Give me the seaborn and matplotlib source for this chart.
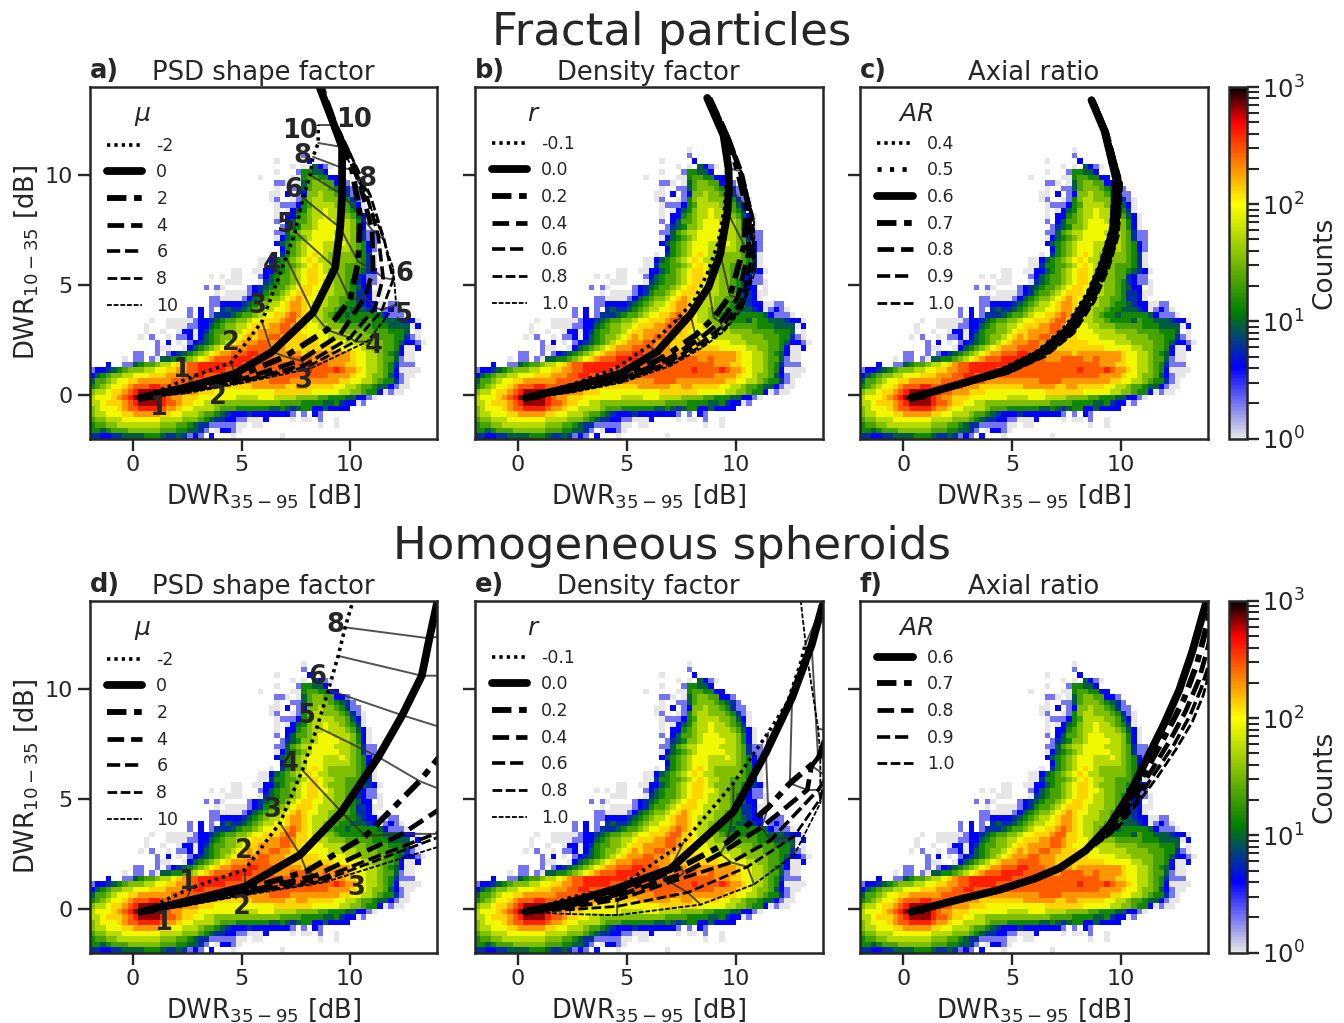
import numpy as np
import pandas as pd
import seaborn as sns
import matplotlib.pyplot as plt
from matplotlib.colors import LinearSegmentedColormap, LogNorm
from matplotlib.cm import ScalarMappable
from matplotlib.lines import Line2D

# histogram cells: "first_column cells", one entry per 0.25 dB row from y=-2 upward
COUNT_CODES = {"a": 1, "b": 2, "c": 4, "d": 6, "e": 9, "f": 14, "g": 22, "h": 35,
               "i": 55, "j": 90, "k": 130, "l": 190, "m": 280, "n": 400, "o": 650, "p": 900}
HIST_ROWS = [
    "0 ddccddeeeefffeddedbcb.c...a........a",
    "0 ffefggghhhhhhgggffeedb.accba",
    "0 fgghhiiiiiiiihhhggfeddbbbbbaa.aa..........a..a",
    "0 ghhiiijjjjjjjiiiihhhgfeddccbbaaac....a.aa.b..a",
    "0 hiijjjkklllllkkjjiiihggfedcccdcccccccb.b.cb",
    "0 hijjjklmmnnnnmllkjjiiiihgggffffffeefedeffccecccc",
    "0 iijkkklmnoooonmmlkkjjiihhhhhhhhhhhhggggffffeefdccab",
    "0 ijjjklmnoopponmllkkkjjjjjjjiiiijjjiiiihhhhggfffeeccba",
    "0 hiijkklmnoooonnmmlllkkkjjjjjjjjjjjkkkkkkkjjjjjiihhgffcabaa",
    "0 fghijjklmmmnnmmmmmmlllkkkkkkkkllllllkkllkkkkkjjiihggfeecbaa",
    "0 egghijjkkllllllmmmmmmmmllllllllllmmmmlllllllllkkjjiihgffdba",
    "0 cefghhiijjjkkklllmmnnmmmmmmmmmmmmmmmmmmmmmmmllllkjjihhgecbaa",
    "0 bccdefghhhiijjkkllmmnnnnnmmmmmmmmmmmmmmmnmmmmnmllkjiihgfcaaaa",
    "0 ...c..bbefgghiijklmmnnnnnnnnmmmmmmmmmmmmmmmmlllkkjjiihgfdbbb",
    "6 a.bb.baeeffghijklmmmnnnnmmmmlllmmmmllmllllkjjiihggebaa",
    "8 bb..b.bcdefghijkllmmmnnmmmlllllkllllllllkjjiihgfecaa",
    "12 baa..acefghijklllmmmmlllkkkkkkkkkjjjjjiihhggfcaac",
    "12 b.c.a.bcdefghijklllmmlllkkkkkkjjjjjiiihhhhggfeccba",
    "9 a.b..a.bbcacefghhijklkllmmllkkkjjjjiiiiihhhhgggffdba",
    "10 a..a..accacdfgghhijkkllllmmlkjjjjiiiihhhhggggfffe.a",
    "10 a...aaaabbccefghhiijkkkllmmlkkjjiihhhgggggfffeeeeac",
    "11 a..aaaaabccdefgghhijjkkklmmkkjiihhgffffegffeeedcca",
    "18 b.c.bdddefgghijjkklmlkjiihgffefffffecbbba",
    "18 b.c.b.deddefghiijjkllkjiihhgffeeedcabcba",
    "22 bbccccdefghiijkllkjiiihhgffedccaabb",
    "22 bbaaaabcefghhijklkjjiihhggfddca",
    "23 a.aaaabcdfgghijkkkjiiihhgfddcaa",
    "21 b.ba....bcdefgghijkkjjiihhgfecc.a",
    "25 aaa...adefgghijkkjiihhgfdcbba",
    "22 a.a.aa...bcefgghijkkjjihhggdcbb",
    "26 aa..aaccefghijkkjihhhggfedca",
    "31 aadffgghijkjiihhgggfda",
    "31 aacefghijkjiihhhhhgfda",
    "33 a.dfghijkjihhhhhgfda",
    "35 cfghijjjiiiiihgfcb",
    "34 cefghijjjiiijihgfcb",
    "34 acefghijjjjjiihgdbb",
    "34 bbeghiijjjjiiihgdbb",
    "35 bdefhhijjjjiihfca",
    "34 b.cegghijjjiiihfca",
    "34 a.ccfghiijiiihgeca",
    "34 a.acefhiijiihgfda",
    "34 abbbcfgiiiihhgeca",
    "33 ab..abfhiihhhgfdba",
    "33 aa.c.bchhihhgfdbb",
    "34 a..bbeghhhgfedb",
    "34 bba.aeghhggccb",
    "31 a.....aafggffcc",
    "34 a...bffeec",
    "37 a.a.ecba",
    "34 a.....c",
    "39 b",
    "39 a",
]

# all the curves begin at the same spot
start_x = 0.35
start_y = -0.15

# a) Fractal, PSD shape factor
a_labels = ["-2", "0", "2", "4", "6", "8", "10"]
a_x = [[2.86, 4.52, 5.94, 7.05, 7.47, 7.83, 8.16, 8.29, 8.53, 8.53],
       [2.40, 4.70, 6.41, 8.29, 9.31, 9.54, 9.63, 9.63, 9.63, 9.26, 8.4],
       [2.40, 4.70, 7.00, 8.94, 10.0, 10.37, 10.46, 10.09, 9.68, 9.31, 8.71],
       [2.40, 4.84, 7.70, 9.54, 10.69, 11.06, 11.01, 10.46, 9.86, 9.40],
       [2.40, 4.93, 7.93, 10.0, 11.15, 11.52, 11.29, 10.69, 10.0, 9.45],
       [2.40, 4.93, 8.06, 10.23, 11.47, 11.98, 11.57, 10.92, 10.09, 9.54],
       [2.40, 4.93, 8.16, 10.78, 12.12, 11.98, 11.29, 10.23, 9.54, 9.17]]
a_y = [[0.86, 1.45, 3.32, 6.23, 7.41, 8.95, 10.0, 10.82, 11.45, 12.27],
       [0.32, 0.95, 1.95, 3.73, 5.77, 7.59, 9.09, 10.32, 11.27, 12.27, 14.5],
       [0.23, 0.77, 1.73, 2.95, 4.32, 6.05, 8.18, 10.23, 11.14, 12.27, 13.95],
       [0.18, 0.64, 1.55, 2.73, 4.45, 5.68, 7.50, 9.55, 11.14, 12.14],
       [0.14, 0.59, 1.36, 2.59, 3.95, 5.32, 7.27, 9.32, 10.91, 12.05],
       [0.10, 0.55, 1.27, 2.41, 3.86, 5.23, 7.05, 9.09, 10.77, 11.95],
       [0.05, 0.50, 1.18, 2.41, 4.09, 5.77, 7.73, 10.14, 11.27, 12.14]]

# b) Fractal, density factor
b_labels = ["-0.1", "0.0", "0.2", "0.4", "0.6", "0.8", "1.0"]
b_x = [[2.6, 4.5, 6.0, 7.3, 8.1, 8.7, 9.2, 9.5, 9.6, 9.5, 8.7],
       [2.5, 4.7, 6.4, 7.93, 8.76, 9.3, 9.63, 9.7, 9.68, 9.45, 8.7],
       [2.5, 4.7, 6.7, 8.16, 9.0, 9.75, 10.4, 10.5, 10.1, 9.6, 8.8],
       [2.5, 4.75, 6.8, 8.3, 9.3, 10.1, 10.6, 10.6, 10.2, 9.6, 8.8],
       [2.5, 4.8, 6.9, 8.4, 9.4, 10.3, 10.75, 10.7, 10.3, 9.65, 8.85],
       [2.5, 4.8, 7.0, 8.5, 9.5, 10.4, 10.85, 10.8, 10.3, 9.7, 8.9],
       [2.5, 4.8, 7.0, 8.5, 9.5, 10.3, 10.9, 10.85, 10.4, 9.7, 8.9]]
b_y = [[0.5, 1.2, 2.2, 3.4, 4.3, 5.5, 6.9, 8.5, 10.0, 11.8, 13.5],
       [0.35, 0.95, 1.95, 3.64, 4.9, 6.4, 8.3, 9.5, 10.3, 11.8, 13.5],
       [0.25, 0.75, 1.7, 2.7, 3.5, 4.5, 6.8, 8.5, 10.2, 11.8, 13.5],
       [0.2, 0.7, 1.55, 2.5, 3.3, 4.4, 6.5, 8.5, 10.2, 11.8, 13.5],
       [0.18, 0.65, 1.45, 2.35, 3.1, 4.3, 6.3, 8.3, 10.1, 11.8, 13.4],
       [0.15, 0.6, 1.4, 2.25, 3.0, 4.2, 6.0, 8.1, 10.0, 11.7, 13.4],
       [0.1, 0.55, 1.3, 2.15, 2.9, 3.9, 5.6, 7.9, 9.8, 11.7, 13.4]]

# c) Fractal, axial ratio
c_labels = ["0.4", "0.5", "0.6", "0.7", "0.8", "0.9", "1.0"]
c_x = [[2.5, 4.6, 6.2, 7.5, 8.45, 9.1, 9.55, 9.7, 9.2, 8.6],
       [2.5, 4.65, 6.25, 7.55, 8.5, 9.15, 9.6, 9.75, 9.25, 8.65],
       [2.5, 4.7, 6.3, 7.6, 8.57, 9.2, 9.65, 9.8, 9.26, 8.66],
       [2.5, 4.75, 6.4, 7.7, 8.65, 9.3, 9.75, 9.9, 9.3, 8.7],
       [2.5, 4.8, 6.45, 7.75, 8.7, 9.35, 9.8, 9.95, 9.35, 8.75],
       [2.5, 4.8, 6.5, 7.8, 8.75, 9.4, 9.85, 10.0, 9.4, 8.8],
       [2.5, 4.85, 6.55, 7.85, 8.8, 9.45, 9.9, 10.05, 9.4, 8.85]]
c_y = [[0.5, 1.2, 2.0, 3.15, 4.6, 6.1, 7.6, 9.8, 12.0, 13.4],
       [0.48, 1.15, 1.95, 3.05, 4.55, 6.05, 7.55, 9.8, 12.0, 13.4],
       [0.45, 1.1, 1.9, 3.0, 4.5, 6.0, 7.5, 9.8, 12.0, 13.4],
       [0.42, 1.05, 1.85, 2.95, 4.4, 5.9, 7.4, 9.75, 12.0, 13.4],
       [0.4, 1.02, 1.8, 2.9, 4.35, 5.85, 7.35, 9.7, 11.95, 13.35],
       [0.38, 1.0, 1.78, 2.85, 4.3, 5.8, 7.3, 9.65, 11.9, 13.3],
       [0.35, 0.98, 1.75, 2.8, 4.25, 5.75, 7.25, 9.6, 11.85, 13.25]]

# d) Spheroids, PSD shape factor
d_labels = ["-2", "0", "2", "4", "6", "8", "10"]
d_x = [[2.7, 5.16, 6.77, 7.8, 8.48, 9.0, 9.45, 9.77, 10.1, 10.5],
       [2.4, 5.16, 7.7, 9.6, 11.3, 12.4, 13.3, 13.65, 14.0, 14.2],
       [2.4, 5.1, 8.0, 10.7, 13.2, 15.0, 15.0, 15.0],
       [2.4, 5.1, 8.4, 12.4, 15.0],
       [2.4, 5.1, 8.6, 13.9, 15.5],
       [2.4, 5.1, 8.7, 15.0],
       [2.4, 5.1, 8.85, 15.0]]
d_y = [[0.95, 1.77, 3.9, 6.3, 8.27, 9.95, 11.5, 12.8, 13.9, 15.0],
       [0.32, 1.0, 2.45, 4.4, 6.9, 8.8, 10.6, 12.3, 13.9, 15.0],
       [0.25, 0.85, 1.7, 3.3, 5.8, 8.0, 10.6, 12.6],
       [0.2, 0.75, 1.5, 3.4, 5.1],
       [0.17, 0.7, 1.35, 3.4, 4.0],
       [0.15, 0.65, 1.25, 3.6],
       [0.12, 0.6, 1.2, 3.1]]

# e) Spheroids, density factor
e_labels = ["-0.1", "0.0", "0.2", "0.4", "0.6", "0.8", "1.0"]
e_x = [[2.4, 4.7, 7.6, 9.9, 11.5, 12.4, 13.0, 13.2],
       [2.4, 4.5, 7.0, 9.9, 11.4, 12.6, 13.5, 14.0],
       [2.4, 4.5, 7.5, 9.6, 11.5, 12.5, 13.8, 14.3],
       [2.4, 4.5, 7.6, 9.3, 11.2, 13.3, 13.5, 14.3],
       [2.4, 4.6, 7.0, 9.8, 11.6, 13.8, 14.2, 14.5],
       [2.4, 4.56, 7.8, 10.55, 12.7, 13.9, 14.3, 14.5],
       [2.4, 4.56, 8.4, 10.85, 12.7, 13.9, 13.9, 13.8, 13.3, 13.0]]
e_y = [[0.5, 1.0, 3.0, 5.7, 8.0, 9.4, 11.2, 12.0],
       [0.3, 0.9, 1.8, 4.4, 7.1, 9.6, 12.0, 13.8],
       [0.2, 0.65, 1.9, 3.0, 4.6, 5.7, 6.8, 8.2],
       [0.15, 0.55, 1.6, 2.5, 3.7, 5.4, 6.5, 7.5],
       [0.05, 0.4, 1.2, 2.1, 3.1, 5.4, 6.0, 7.0],
       [-0.05, 0.1, 0.73, 1.9, 3.3, 5.0, 6.5, 8.0],
       [-0.25, -0.3, 0.18, 1.1, 2.45, 4.8, 7.0, 8.2, 11.4, 14.0]]

# f) Spheroids, axial ratio
f_labels = ["0.6", "0.7", "0.8", "0.9", "1.0"]
f_x = [[2.5, 4.4, 6.0, 7.2, 8.4, 9.5, 10.4, 11.3, 12.0, 12.7, 13.3, 13.9, 14.2],
       [2.5, 4.4, 6.0, 7.2, 8.4, 9.6, 10.5, 11.4, 12.15, 12.9, 13.5, 14.0, 14.2],
       [2.5, 4.4, 6.0, 7.2, 8.4, 9.7, 10.6, 11.5, 12.3, 13.0, 13.6, 14.05, 14.2],
       [2.5, 4.4, 6.0, 7.2, 8.4, 9.75, 10.7, 11.6, 12.45, 13.2, 13.7, 14.1, 14.2],
       [2.5, 4.4, 6.0, 7.2, 8.4, 9.8, 10.75, 11.7, 12.55, 13.3, 13.8, 14.1, 14.2]]
f_y = [[0.4, 0.85, 1.35, 1.85, 2.65, 3.8, 5.2, 7.0, 8.4, 9.95, 11.7, 13.8, 15.0],
       [0.38, 0.83, 1.32, 1.8, 2.62, 3.75, 5.1, 6.7, 8.05, 9.5, 11.1, 13.0, 14.0],
       [0.36, 0.8, 1.3, 1.8, 2.6, 3.7, 5.0, 6.4, 7.7, 9.0, 10.4, 12.0, 13.0],
       [0.35, 0.78, 1.28, 1.78, 2.58, 3.65, 4.85, 6.2, 7.45, 8.8, 10.0, 11.2, 12.0],
       [0.34, 0.76, 1.26, 1.75, 2.55, 3.6, 4.75, 6.0, 7.25, 8.5, 9.7, 10.8, 11.5]]

# size labels next to the curve ends in a) and d)
a_text = ["1", "2", "3", "4", "5", "6", "8", "10", "1", "2", "3", "4", "5", "6", "8", "10"]
a_text_x = [2.22, 4.53, 5.74, 6.4, 7.05, 7.4, 7.8, 7.7, 1.15, 3.9, 7.85, 11.1, 12.5, 12.5, 10.8, 10.2]
a_text_y = [1.13, 2.36, 4.05, 5.9, 7.7, 9.3, 10.85, 12.0, -0.6, -0.09, 0.64, 2.2, 3.64, 5.5, 9.8, 12.5]
d_text = ["1", "2", "3", "4", "5", "6", "8", "1", "2", "3"]
d_text_x = [2.5, 5.1, 6.4, 7.2, 8.0, 8.5, 9.3, 1.4, 5.0, 10.3]
d_text_y = [1.23, 2.64, 4.5, 6.6, 8.75, 10.55, 12.9, -0.64, 0.05, 0.95]

# (linewidth, dash pattern in points) per row of the legends
solid = (5.6, None)
style_dot = (2.6, (2.4, 2.9))
style_dot2 = (3.4, (3.0, 6.0))
style_dashdot = (4.2, (14, 5.5, 5.5, 5.5))
style_dash = (3.4, (12, 5))
style_dash2 = (2.6, (9.5, 3.5))
style_dash3 = (2.0, (7, 2.5))
style_dash4 = (1.3, (3.5, 1.3))

styles_mu = [style_dot, solid, style_dashdot, style_dash, style_dash2, style_dash3, style_dash4]
styles_ar = [style_dot, style_dot2, solid, style_dashdot, style_dash, style_dash2, style_dash3]
styles_f = [solid, style_dashdot, style_dash, style_dash2, style_dash3]

W, H = 1344, 1023
sns.set_theme(style="ticks")
plt.rcParams["font.family"] = "DejaVu Sans"
plt.rcParams["lines.scale_dashes"] = False
plt.rcParams["lines.dash_capstyle"] = "butt"

cmap = LinearSegmentedColormap.from_list("counts", [
    (0.0, "#e6e6e6"), (0.2, "#0000ff"), (0.36, "#007f00"),
    (0.667, "#ffff00"), (0.9, "#ff0000"), (1.0, "#000000")])
norm = LogNorm(vmin=1, vmax=1000)

# turn the rows into a table of cells
bin_edges = np.arange(-2, 14.01, 0.25)
cell_x, cell_y, cell_n = [], [], []
for i, row in enumerate(HIST_ROWS):
    first, cells = row.split(" ")
    for j, c in enumerate(cells):
        if c != ".":
            cell_x.append(bin_edges[int(first) + j] + 0.125)
            cell_y.append(bin_edges[i] + 0.125)
            cell_n.append(COUNT_CODES[c])
cells_df = pd.DataFrame({"x": cell_x, "y": cell_y, "n": cell_n})


def px_axes(x0, x1, y0, y1):
    return fig.add_axes([x0 / W, 1 - y1 / H, (x1 - x0) / W, (y1 - y0) / H])


def draw_line(ax, xs, ys, style, **kws):
    lw, dash = style
    ls = "-" if dash is None else (0, dash)
    # "k" is a dark grey once set_theme has run, so name black in full
    sns.lineplot(x=xs, y=ys, sort=False, estimator=None, errorbar=None, color="#000000",
                 linewidth=lw, linestyle=ls, ax=ax, **kws)


def draw_panel(ax, xs, ys, styles, labels, tag, title, legend_title, ylabels, n_thin):
    sns.histplot(data=cells_df, x="x", y="y", weights="n", bins=[bin_edges, bin_edges],
                 cmap=cmap, ax=ax)
    ax.collections[0].set_norm(norm)

    # thin lines join equal sizes across the curves
    for k in range(n_thin):
        tx = [c[k] for c in xs if len(c) > k]
        ty = [c[k] for c, d in zip(ys, xs) if len(d) > k]
        sns.lineplot(x=tx, y=ty, sort=False, estimator=None, errorbar=None, color="#333333",
                     linewidth=1.4, alpha=0.85, ax=ax)

    for cx, cy, st in zip(xs[::-1], ys[::-1], styles[::-1]):
        kws = {"solid_capstyle": "round"} if st[1] is None else {}
        draw_line(ax, [start_x] + cx, [start_y] + cy, st, **kws)

    ax.set_xlim(-2, 14)
    ax.set_ylim(-2, 14)
    ax.set_xticks([0, 5, 10])
    ax.set_yticks([0, 5, 10])
    ax.tick_params(length=8.5, width=1.7, labelsize=16, color=".15", labelcolor=".15",
                   left=True, bottom=True)
    ax.tick_params(axis="y", labelleft=ylabels)
    for s in ax.spines.values():
        s.set_visible(True)
        s.set_linewidth(1.8)
        s.set_color(".15")
    ax.set_xlabel(r"DWR$_{35-95}$ [dB]", fontsize=18.6, color=".15", labelpad=5)
    ax.set_ylabel(r"DWR$_{10-35}$ [dB]" if ylabels else "", fontsize=18.6, color=".15", labelpad=3)
    ax.set_title(title, fontsize=18.6, color=".15", pad=5)
    ax.text(0, 1.027, tag, transform=ax.transAxes, fontsize=18.5, fontweight="bold", color=".15")

    handles = []
    for st, lab in zip(styles, labels):
        ls = "-" if st[1] is None else (0, st[1])
        handles.append(Line2D([], [], color="#000000", lw=st[0], ls=ls, label=lab,
                              solid_capstyle="round"))
    leg = ax.legend(handles=handles, title=legend_title, title_fontsize=18, fontsize=12.5,
                    loc="upper left", bbox_to_anchor=(0.04, 0.967), frameon=False,
                    labelspacing=0.5, handlelength=2.05, handletextpad=0.8, borderpad=0.2,
                    borderaxespad=0)
    for t in leg.get_texts():
        t.set_color(".15")
    leg.get_title().set_color(".15")


def draw_cbar(y0, y1):
    cax = px_axes(1229, 1247, y0, y1)
    cb = fig.colorbar(ScalarMappable(norm=norm, cmap=cmap), cax=cax)
    cb.outline.set_linewidth(1.8)
    cb.outline.set_edgecolor(".15")
    cax.tick_params(which="major", length=12 / 1.39, width=1.7, labelsize=17.5, color=".15",
                    labelcolor=".15", pad=2)
    cax.tick_params(which="minor", length=12 / 1.39, width=1.5, color=".15")
    cb.set_label("Counts", fontsize=19, color=".15", labelpad=5)


fig = plt.figure(figsize=(W / 100, H / 100), dpi=100)

ax_a = px_axes(89.5, 437, 87, 438.5)
ax_b = px_axes(474.5, 822.5, 87, 438.5)
ax_c = px_axes(860, 1207.5, 87, 438.5)
ax_d = px_axes(89.5, 437, 601, 952.5)
ax_e = px_axes(474.5, 822.5, 601, 952.5)
ax_f = px_axes(860, 1207.5, 601, 952.5)

draw_panel(ax_a, a_x, a_y, styles_mu, a_labels, "a)", "PSD shape factor", r"$\mu$", True, 10)
draw_panel(ax_b, b_x, b_y, styles_mu, b_labels, "b)", "Density factor", r"$r$", False, 10)
draw_panel(ax_c, c_x, c_y, styles_ar, c_labels, "c)", "Axial ratio", r"$AR$", False, 0)
draw_panel(ax_d, d_x, d_y, styles_mu, d_labels, "d)", "PSD shape factor", r"$\mu$", True, 8)
draw_panel(ax_e, e_x, e_y, styles_mu, e_labels, "e)", "Density factor", r"$r$", False, 8)
draw_panel(ax_f, f_x, f_y, styles_f, f_labels, "f)", "Axial ratio", r"$AR$", False, 0)

for tx, ty, s in zip(a_text_x, a_text_y, a_text):
    ax_a.text(tx, ty, s, fontsize=18.5, fontweight="bold", color=".15", ha="center", va="center")
for tx, ty, s in zip(d_text_x, d_text_y, d_text):
    ax_d.text(tx, ty, s, fontsize=18.5, fontweight="bold", color=".15", ha="center", va="center")

draw_cbar(87, 438.5)
draw_cbar(601, 952.5)

fig.text(672 / W, 1 - 33 / H, "Fractal particles", fontsize=32.4, color=".15", ha="center", va="center")
fig.text(672 / W, 1 - 547 / H, "Homogeneous spheroids", fontsize=32.4, color=".15", ha="center", va="center")

fig.savefig("out.png", dpi=100)
